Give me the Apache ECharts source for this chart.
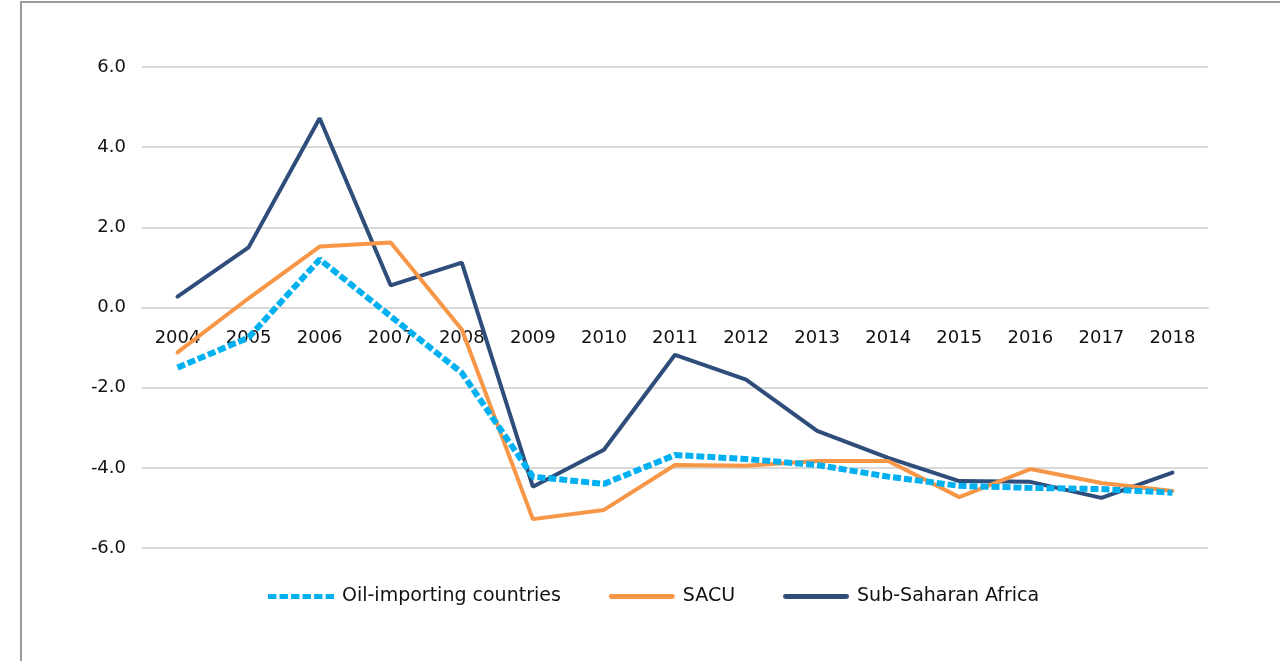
<!DOCTYPE html>
<html>
<head>
<meta charset="utf-8">
<script src="https://cdn.jsdelivr.net/npm/echarts@6/dist/echarts.min.js"></script>
<style>
  html, body { margin: 0; padding: 0; background: #fff; }
  /* frame seen on the left and top edge */
  #frame {
    position: absolute; left: 20px; top: 1px; width: 1260px; height: 660px;
    border-left: 2px solid #9a9a9a; border-top: 2px solid #9a9a9a;
  }
  #chart { position: absolute; left: 0; top: 0; width: 1280px; height: 661px; }
</style>
</head>
<body>
<div id="frame"></div>
<div id="chart"></div>
<script>
  // categories
  var years = ['2004', '2005', '2006', '2007', '2008', '2009', '2010', '2011',
               '2012', '2013', '2014', '2015', '2016', '2017', '2018'];
  // series values
  var oilImporting = [-1.5, -0.75, 1.2, -0.22, -1.63, -4.22, -4.4, -3.68,
                      -3.78, -3.93, -4.22, -4.45, -4.5, -4.53, -4.62];
  var sacu = [-1.12, 0.23, 1.52, 1.62, -0.55, -5.28, -5.05, -3.93,
              -3.95, -3.83, -3.83, -4.73, -4.03, -4.38, -4.58];
  var subSaharan = [0.27, 1.5, 4.72, 0.55, 1.12, -4.47, -3.55, -1.18,
                    -1.8, -3.08, -3.75, -4.33, -4.35, -4.75, -4.12];
  var legendNames = ['Oil-importing countries', 'SACU', 'Sub-Saharan Africa'];

  var font = 'DejaVu Sans';
  // legend icons: a dashed bar for the dotted series, a plain bar for the others
  var dashIcon = 'path://M0,0h8v5h-8z M11,0h8v5h-8z M22,0h8v5h-8z M33,0h8v5h-8z M44,0h8v5h-8z M55,0h8v5h-8z';
  var barIcon = 'path://M2,0h62a2,2 0 0 1 0,5h-62a2,2 0 0 1 0,-5z';

  var chart = echarts.init(document.getElementById('chart'));
  chart.setOption({
    animation: false,
    textStyle: { fontFamily: font },
    grid: { left: 142, right: 72, top: 67, bottom: 113 },
    legend: {
      data: [
        { name: legendNames[0], icon: dashIcon },
        { name: legendNames[1], icon: barIcon },
        { name: legendNames[2], icon: barIcon }
      ],
      top: 582,
      left: 263,
      itemWidth: 66,
      itemHeight: 6,
      itemGap: 48,
      textStyle: { fontFamily: font, fontSize: 19, color: '#111', padding: [0, 0, 0, 3] }
    },
    xAxis: {
      type: 'category',
      data: years,
      boundaryGap: true,
      // labels sit just under the zero line
      offset: -240,
      axisLine: { onZero: false, lineStyle: { color: '#d9d9d9', width: 2 } },
      axisTick: { show: false },
      axisLabel: { margin: 21, fontSize: 18, color: '#111', fontFamily: font }
    },
    yAxis: {
      type: 'value',
      min: -6, max: 6, interval: 2,
      axisLine: { show: false },
      axisTick: { show: false },
      splitLine: { lineStyle: { color: '#d9d9d9', width: 2 } },
      axisLabel: {
        margin: 16, fontSize: 18, color: '#111', fontFamily: font,
        formatter: function (v) { return v.toFixed(1); }
      }
    },
    series: [
      {
        name: 'Sub-Saharan Africa', type: 'line', data: subSaharan,
        symbol: 'none', color: '#2E4D7B',
        lineStyle: { width: 4, color: '#2E4D7B', cap: 'round' }
      },
      {
        name: 'SACU', type: 'line', data: sacu,
        symbol: 'none', color: '#F79646',
        lineStyle: { width: 4, color: '#F79646', cap: 'round' }
      },
      {
        name: 'Oil-importing countries', type: 'line', data: oilImporting,
        symbol: 'none', color: '#00B0F0',
        lineStyle: { width: 6, color: '#00B0F0', type: [8, 3], cap: 'butt' }
      }
    ]
  });
</script>
</body>
</html>
